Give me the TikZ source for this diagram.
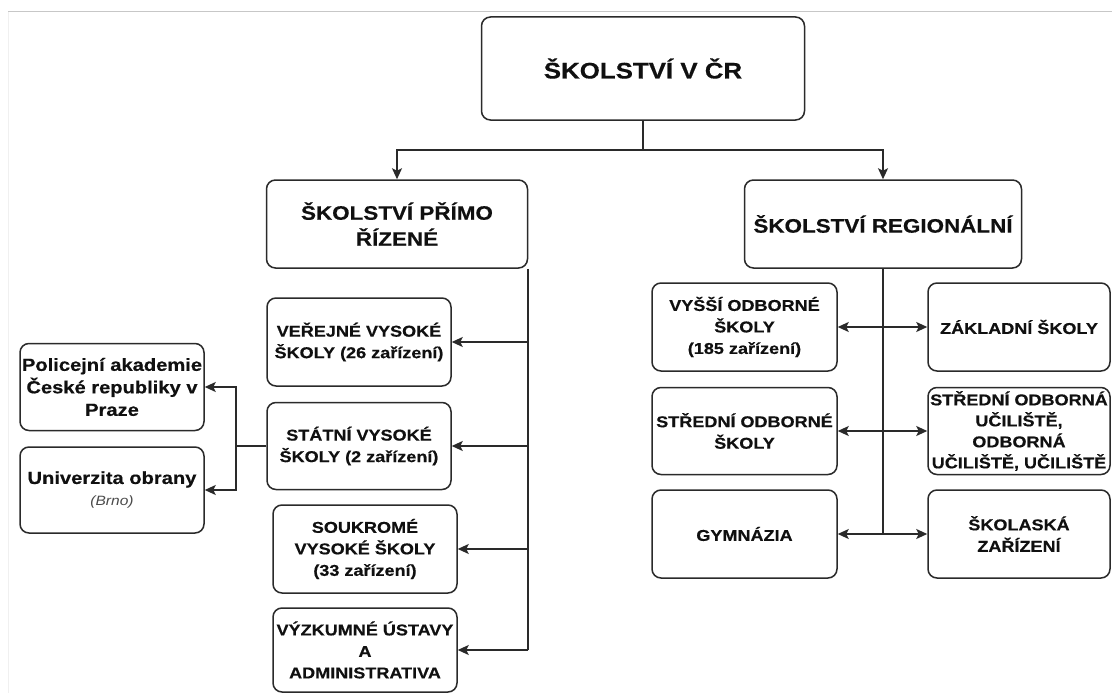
\documentclass[tikz,border=0pt]{standalone}
\usepackage{fontspec}
\setmainfont{Liberation Sans}[FakeStretch=1.15,BoldFeatures={FakeBold=0.4}]
\usetikzlibrary{arrows.meta}
\definecolor{ln}{HTML}{2A2A2A}
\definecolor{tx}{HTML}{101010}
\definecolor{sub}{HTML}{4A4A4A}
\begin{document}
\begin{tikzpicture}[x=1pt,y=-1pt,
  box/.style={draw=ln, line width=1.5pt, rounded corners=9pt, align=center, inner sep=0pt, text=tx,
    font=\bfseries\fontsize{15.7}{21.5}\selectfont},
  conn/.style={draw=ln, line width=1.6pt},
  arr/.style={conn, -{Stealth[length=11pt,width=10pt,inset=2.5pt]}}]
\useasboundingbox (0,0) rectangle (1112,693);
\fill[white] (0,0) rectangle (1112,693);
\draw[black!22, line width=1pt] (8,12) -- (1112,12);
\draw[black!6, line width=1pt] (8,12) -- (8,693);

% top levels
\node[box, minimum width=323pt, minimum height=103pt, font=\bfseries\fontsize{22.5}{26}\selectfont] (top) at (643,68.5) {ŠKOLSTVÍ V ČR};
\node[box, minimum width=261pt, minimum height=88pt, font=\bfseries\fontsize{19.5}{26}\selectfont] (prim) at (397,224) {ŠKOLSTVÍ PŘÍMO\\ŘÍZENÉ};
\node[box, minimum width=277pt, minimum height=88pt, font=\bfseries\fontsize{19.5}{26}\selectfont] (reg) at (883,224) {ŠKOLSTVÍ REGIONÁLNÍ};

% left column
\node[box, minimum width=184pt, minimum height=88pt] (vej) at (359,342) {VEŘEJNÉ VYSOKÉ\\ŠKOLY (26 zařízení)};
\node[box, minimum width=184pt, minimum height=87pt] (stat) at (359,446) {STÁTNÍ VYSOKÉ\\ŠKOLY (2 zařízení)};
\node[box, minimum width=184pt, minimum height=88pt] (souk) at (365,549) {SOUKROMÉ\\VYSOKÉ ŠKOLY\\(33 zařízení)};
\node[box, minimum width=184pt, minimum height=84pt] (vyz) at (365,650) {VÝZKUMNÉ ÚSTAVY\\A\\ADMINISTRATIVA};

\node[box, minimum width=184pt, minimum height=87pt, font=\bfseries\fontsize{17.5}{22.5}\selectfont] (pol) at (112,387) {Policejní akademie\\České republiky v\\Praze};
\node[box, minimum width=184pt, minimum height=86pt, font=\bfseries\fontsize{17.5}{21}\selectfont] (uni) at (112,490) {Univerzita obrany\\[1pt]{\mdseries\itshape\fontsize{13.5}{15}\selectfont\color{sub}(Brno)}};

% right column
\node[box, minimum width=185pt, minimum height=88pt] (vos) at (744.5,327) {VYŠŠÍ ODBORNÉ\\ŠKOLY\\(185 zařízení)};
\node[box, minimum width=182pt, minimum height=88pt] (zak) at (1019,327) {ZÁKLADNÍ ŠKOLY};
\node[box, minimum width=185pt, minimum height=87pt] (sos) at (744.5,431) {STŘEDNÍ ODBORNÉ\\ŠKOLY};
\node[box, minimum width=182pt, minimum height=87pt, font=\bfseries\fontsize{15.7}{21}\selectfont] (sou) at (1019,431) {STŘEDNÍ ODBORNÁ\\UČILIŠTĚ,\\ODBORNÁ\\UČILIŠTĚ, UČILIŠTĚ};
\node[box, minimum width=185pt, minimum height=88pt] (gym) at (744.5,534) {GYMNÁZIA};
\node[box, minimum width=182pt, minimum height=88pt] (skz) at (1019,534) {ŠKOLASKÁ\\ZAŘÍZENÍ};

% connectors top
\coordinate (hj) at (643,150);
\draw[conn] (top.south) -- (hj);
\draw[arr] (hj) -| (prim.north);
\draw[arr] (hj) -| (reg.north);

% left trunk
\draw[conn] (prim.south east) -- (prim.south east |- vyz.east);
\draw[arr] (prim.south east |- vej.east) -- (vej.east);
\draw[arr] (prim.south east |- stat.east) -- (stat.east);
\draw[arr] (prim.south east |- souk.east) -- (souk.east);
\draw[arr] (prim.south east |- vyz.east) -- (vyz.east);

% state schools branch
\coordinate (sj) at (236,446);
\draw[conn] (stat.west) -- (sj);
\draw[arr] (sj) |- (pol.east);
\draw[arr] (sj) |- (uni.east);

% right trunk
\draw[conn] (reg.south) -- (reg.south |- gym.east);
\draw[arr] (reg.south |- vos.east) -- (vos.east);
\draw[arr] (reg.south |- vos.east) -- (zak.west);
\draw[arr] (reg.south |- sos.east) -- (sos.east);
\draw[arr] (reg.south |- sos.east) -- (sou.west);
\draw[arr] (reg.south |- gym.east) -- (gym.east);
\draw[arr] (reg.south |- gym.east) -- (skz.west);
\end{tikzpicture}
\end{document}
